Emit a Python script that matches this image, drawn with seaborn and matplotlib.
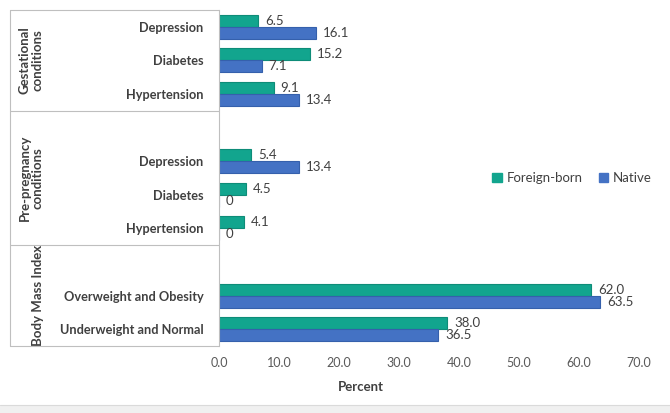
import matplotlib
matplotlib.use("Agg")
import matplotlib.pyplot as plt
import matplotlib.transforms as mtransforms
import seaborn as sns
import pandas as pd
import numpy as np

# ---- data ----
row_keys = ["G_Depression", "G_Diabetes", "G_Hypertension", "gap1",
            "P_Depression", "P_Diabetes", "P_Hypertension", "gap2",
            "B_Overweight", "B_Underweight"]
row_labels = ["Depression", "Diabetes", "Hypertension", "",
              "Depression", "Diabetes", "Hypertension", "",
              "Overweight and Obesity", "Underweight and Normal"]
data_keys = ["G_Depression", "G_Diabetes", "G_Hypertension",
             "P_Depression", "P_Diabetes", "P_Hypertension",
             "B_Overweight", "B_Underweight"]
foreign_born = [6.5, 15.2, 9.1, 5.4, 4.5, 4.1, 62.0, 38.0]
native = [16.1, 7.1, 13.4, 13.4, 0, 0, 63.5, 36.5]
series = ["Foreign-born", "Native"]
group_names = ["Gestational\nconditions", "Pre-pregnancy\nconditions", "Body Mass Index"]
x_ticks = [0, 10, 20, 30, 40, 50, 60, 70]

df = pd.DataFrame({
    "cat": data_keys * 2,
    "value": foreign_born + native,
    "series": [series[0]] * len(data_keys) + [series[1]] * len(data_keys),
})

sns.set_theme(style="white")
plt.rcParams["font.family"] = ["Lato", "DejaVu Sans"]

W, H = 670, 413
fig = plt.figure(figsize=(W / 100, H / 100), dpi=100)
ax = fig.add_axes([219 / W, 1 - 346 / H, (639 - 219) / W, (346 - 10) / H])

colors = {"Foreign-born": "#12A58E", "Native": "#4472C4"}
edges = {"Foreign-born": "#0E8C78", "Native": "#3560AC"}
sns.barplot(data=df, y="cat", x="value", hue="series", order=row_keys,
            hue_order=series, palette=colors, orient="h", width=0.72,
            saturation=1, linewidth=0, ax=ax, errorbar=None)
for cont, s in zip(ax.containers, series):
    for bar in cont:
        bar.set_edgecolor(edges[s])
        bar.set_linewidth(0.8)
    labels = []
    for bar in cont:
        v = bar.get_width()
        labels.append("0" if v == 0 else f"{v:.1f}")
    ax.bar_label(cont, labels=labels, padding=5, fontsize=9.5, color="#404040")

ax.set_xlim(0, 70)
ax.set_ylim(9.5, -0.5)
ax.set_xticks(x_ticks)
ax.set_xticklabels([f"{t:.1f}" for t in x_ticks], fontsize=9, color="#595959")
ax.set_yticks(range(len(row_keys)))
ax.set_yticklabels(row_labels, fontsize=9.2, fontweight="bold", color="#404040")
ax.tick_params(axis="y", length=0, pad=11)
ax.tick_params(axis="x", length=0, pad=8)
ax.set_xlabel("")
ax.set_ylabel("")
for sp in ["top", "right", "bottom"]:
    ax.spines[sp].set_visible(False)
ax.spines["left"].set_color("#BFBFBF")
ax.spines["left"].set_linewidth(0.8)

fig.text(361 / W, 1 - 387 / H, "Percent", ha="center", va="center",
         fontsize=9.5, fontweight="bold", color="#404040")

# group boxes
tr = mtransforms.blended_transform_factory(fig.transFigure, ax.transData)
x0, x1 = 10 / W, 219 / W
for yb in [-0.5, 2.5, 6.5, 9.5]:
    ax.plot([x0, x1], [yb, yb], transform=tr, color="#BFBFBF", lw=0.8, clip_on=False)
ax.plot([x0, x0], [-0.5, 9.5], transform=tr, color="#BFBFBF", lw=0.8, clip_on=False)
group_centers = [1.0, 4.5, 8.0]
group_x = [31 / W, 31 / W, 38 / W]
for name, yc, gx in zip(group_names, group_centers, group_x):
    ax.text(gx, yc, name, transform=tr, rotation=90, ha="center", va="center",
            fontsize=9.5, fontweight="bold", color="#404040", linespacing=1.1)

# legend
handles = [plt.Rectangle((0, 0), 1, 1, color=colors[s]) for s in series]
leg = ax.legend(handles, series, loc="center right", bbox_to_anchor=(652 / W, 1 - 178 / H),
                bbox_transform=fig.transFigure, ncol=2, frameon=False, fontsize=9.5,
                handlelength=0.7, handleheight=0.7, columnspacing=1.2, handletextpad=0.4,
                borderpad=0, borderaxespad=0)
for t in leg.get_texts():
    t.set_color("#404040")

# bottom strip
fig.patches.append(plt.Rectangle((0, 0), 1, 8 / H, transform=fig.transFigure,
                                 facecolor="#F0F0F0", edgecolor="none"))
fig.lines.append(plt.Line2D([0, 1], [8 / H, 8 / H], transform=fig.transFigure,
                            color="#DADADA", lw=0.8))

fig.savefig("out.png", dpi=100)
